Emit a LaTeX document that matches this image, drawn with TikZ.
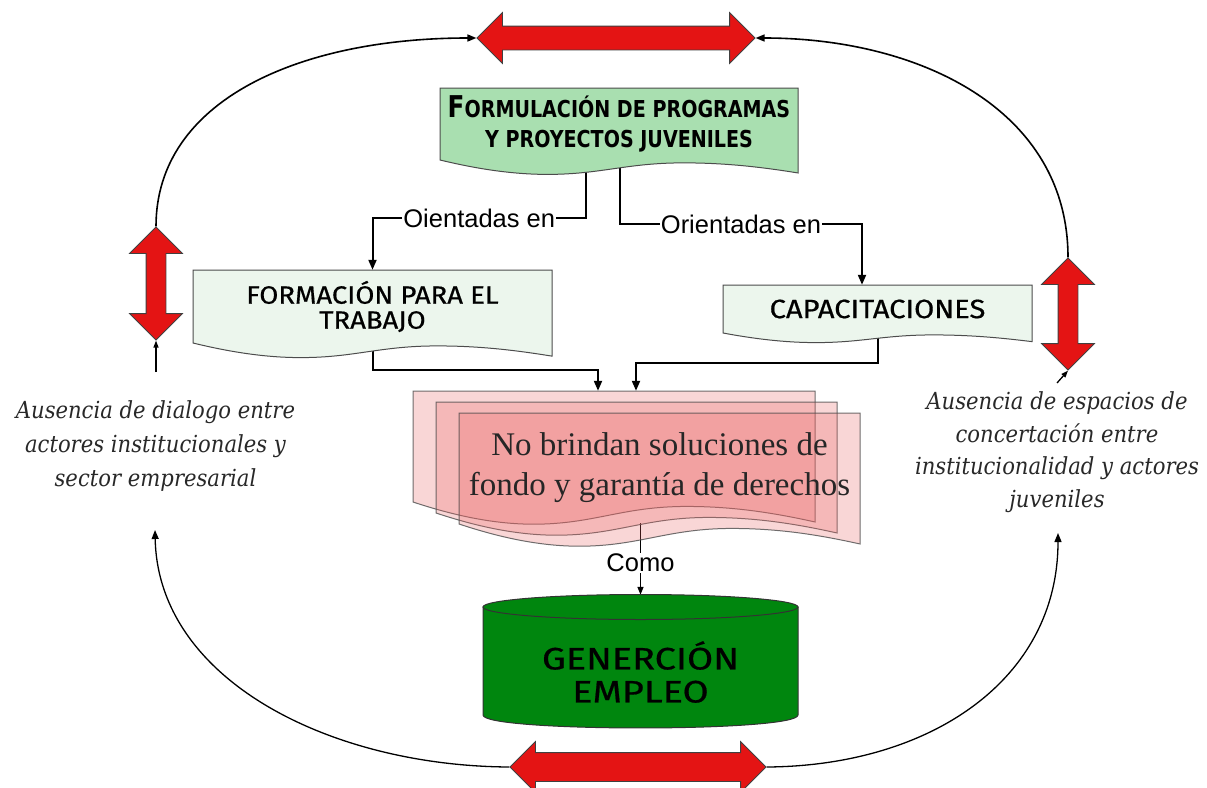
\documentclass[tikz,border=0pt]{standalone}
\usepackage{fontspec}
\setmainfont{Liberation Serif}
\newfontfamily\lsans{Liberation Sans}
\newfontfamily\headfont{DejaVu Sans}[FakeStretch=0.82]
\newfontfamily\comicfont{Fira Sans}[FakeStretch=1.1,FakeBold=0.6]
\newfontfamily\comicwide{Fira Sans}[FakeStretch=1.22,FakeBold=0.6]
\newfontfamily\notefont{DejaVu Serif}[FakeStretch=0.9]
\usetikzlibrary{shapes.arrows,arrows.meta}
\pgfdeclarelayer{bgw}
\pgfdeclarelayer{links}
\pgfsetlayers{bgw,links,main}
\definecolor{arrred}{RGB}{228,20,20}
\definecolor{formgreen}{RGB}{169,223,176}
\definecolor{palegreen}{RGB}{236,246,237}
\definecolor{pinkdoc}{RGB}{235,95,95}
\definecolor{cylgreen}{RGB}{0,134,14}
\definecolor{notegray}{RGB}{40,40,40}
\newcommand\wavyoutline[5]{%
  \path[#5] (#1,#2) -- (#3,#2) -- (#3,{#4+0.18*(#4-#2)})
   .. controls ({#1+0.9*(#3-#1)},{#4+0.10*(#4-#2)}) and ({#1+0.8*(#3-#1)},{#4+0.04*(#4-#2)}) .. ({#1+0.68*(#3-#1)},{#4+0.04*(#4-#2)})
   .. controls ({#1+0.52*(#3-#1)},{#4+0.04*(#4-#2)}) and ({#1+0.45*(#3-#1)},{#4+0.2*(#4-#2)}) .. ({#1+0.3*(#3-#1)},{#4+0.2*(#4-#2)})
   .. controls ({#1+0.2*(#3-#1)},{#4+0.2*(#4-#2)}) and ({#1+0.1*(#3-#1)},{#4+0.12*(#4-#2)}) .. (#1,#4) -- cycle;}
\begin{document}
\begin{tikzpicture}[x=1pt,y=-1pt,
  dblarr/.style={double arrow, draw=black!75, line width=0.8pt, fill=arrred, inner xsep=0pt,
     double arrow tip angle=90, double arrow head indent=0pt},
  conn/.style={line width=2pt, -{Triangle[length=10pt,width=8pt]}},
  curve/.style={line width=1.6pt, -{Triangle[length=9pt,width=7pt]}},
  lbl/.style={fill=white, inner sep=1pt, font={\lsans\fontsize{25.5}{28}\selectfont}},
  docbox/.style={rectangle, draw=none, inner sep=0pt, align=center},
  docline/.style={draw=black!70, line width=1pt},
  pinkstyle/.style={docline, fill=pinkdoc, fill opacity=0.25, draw opacity=0.8},
  note/.style={align=center, text=notegray, inner sep=0pt}
]
\begin{pgfonlayer}{bgw}
\fill[white] (0,0) rectangle (1207,787);
\end{pgfonlayer}
\path[use as bounding box] (0,0) rectangle (1207,787);

% documents
\wavyoutline{440}{88}{798}{160}{docline, fill=formgreen}
\node[docbox, minimum width=358pt, minimum height=72pt,
      font={\headfont\bfseries\fontsize{23.3}{30}\selectfont}] (formu) at (619,124)
  {{\fontsize{30}{30}\selectfont F}ORMULACIÓN DE PROGRAMAS\\Y PROYECTOS JUVENILES};

\wavyoutline{193}{270}{552}{343}{docline, fill=palegreen}
\node[docbox, minimum width=359pt, minimum height=73pt,
      font={\comicfont\fontsize{25}{25}\selectfont}] (formt) at (372.5,306.5)
  {FORMACIÓN PARA EL\\TRABAJO};

\wavyoutline{723}{285}{1032}{333}{docline, fill=palegreen}
\node[docbox, minimum width=309pt, minimum height=48pt,
      font={\comicfont\fontsize{26.5}{26}\selectfont}] (cap) at (877.5,309)
  {CAPACITACIONES};

\wavyoutline{413}{391}{815}{502}{pinkstyle}
\node[docbox, minimum width=402pt, minimum height=111pt] (back) at (614,446.5) {};
\wavyoutline{436}{402}{837}{513}{pinkstyle}
\node[docbox, minimum width=401pt, minimum height=111pt] (mid) at (636.5,457.5) {};
\wavyoutline{459}{413}{860}{524}{pinkstyle}
\node[docbox, minimum width=401pt, minimum height=111pt, text=black!85,
      font={\fontsize{33}{40}\selectfont}] (front) at (659.5,467.5)
  {No brindan soluciones de\\fondo y garantía de derechos};

% cylinder
\node[rectangle, draw=none, minimum width=315pt, minimum height=133pt, inner sep=0pt] (gen) at (640.5,661.5) {};
\path[draw=black!80, line width=1pt, fill=cylgreen]
  (483,607) -- (483,715) .. controls (483,732.3) and (798,732.3) .. (798,715) -- (798,607) -- cycle;
\path[draw=black!80, line width=1pt, fill=cylgreen] (640.5,607) ellipse [x radius=157.5, y radius=12.5];
\node[align=center, inner sep=0pt, font={\comicwide\fontsize{31}{33}\selectfont}] (gentxt) at (640.5,672)
  {GENERCIÓN\\EMPLEO};

% connectors
\begin{pgfonlayer}{links}
\draw[conn] ([xshift=-33pt]formu.south) -- ++(0,58) -| node[lbl, pos=0.25] {Oientadas en} (formt.north);
\draw[conn] ([xshift=1pt]formu.south) -- ++(0,64) -| node[lbl, pos=0.25] {Orientadas en} ([xshift=-15.5pt]cap.north);
\draw[conn] (formt.south) -- ++(0,27) -| ([xshift=-16pt]back.north);
\draw[conn] (cap.south) -- ++(0,30) -| ([xshift=22pt]back.north);
\draw[line width=1.4pt, -{Triangle[length=8pt,width=6pt]}] ([xshift=-19pt]front.south) -- node[lbl, pos=0.55] {Como} (gen.north);
\end{pgfonlayer}

% red double arrows
\node[dblarr, minimum height=278pt, minimum width=50pt, inner ysep=11.5pt, double arrow head extend=13.5pt] (ta) at (616,38) {};
\node[dblarr, minimum height=256pt, minimum width=50pt, inner ysep=14pt, double arrow head extend=11pt] (ba) at (638,767) {};
\node[dblarr, rotate=90, minimum height=113pt, minimum width=52pt, inner ysep=9.5pt, double arrow head extend=16.5pt] (la) at (156,283.5) {};
\node[dblarr, rotate=90, minimum height=112pt, minimum width=52pt, inner ysep=9.5pt, double arrow head extend=16.5pt] (ra) at (1068,314) {};

% notes
\node[note, font={\notefont\itshape\fontsize{23.5}{34}\selectfont}] (lnote) at (155.5,446)
  {Ausencia de dialogo entre\\actores institucionales y\\sector empresarial};
\node[note, font={\notefont\itshape\fontsize{23.5}{32.5}\selectfont}] (rnote) at (1057,452)
  {Ausencia de espacios de\\concertación entre\\institucionalidad y actores\\juveniles};

\coordinate (ltop) at (156,372);
\coordinate (rtop) at (1057,383);
\coordinate (lbot) at (155,530);
\coordinate (rbot) at (1058,533);

% curves
\draw[curve] (la.east) .. controls (156,100) and (300,38) .. (ta.west);
\draw[curve] (ra.east) .. controls (1068,110) and (920,38) .. (ta.east);
\draw[curve, line width=1.3pt] (ba.west) .. controls (330,766) and (158,680) .. (lbot);
\draw[curve, line width=1.3pt] (ba.east) .. controls (930,766) and (1058,680) .. (rbot);
\draw[curve, line width=1.3pt, -{Triangle[length=7pt,width=5pt]}] (ltop) -- (la.west);
\draw[curve, line width=1.3pt, -{Triangle[length=7pt,width=5pt]}] (rtop) -- (ra.west);
\end{tikzpicture}
\end{document}
